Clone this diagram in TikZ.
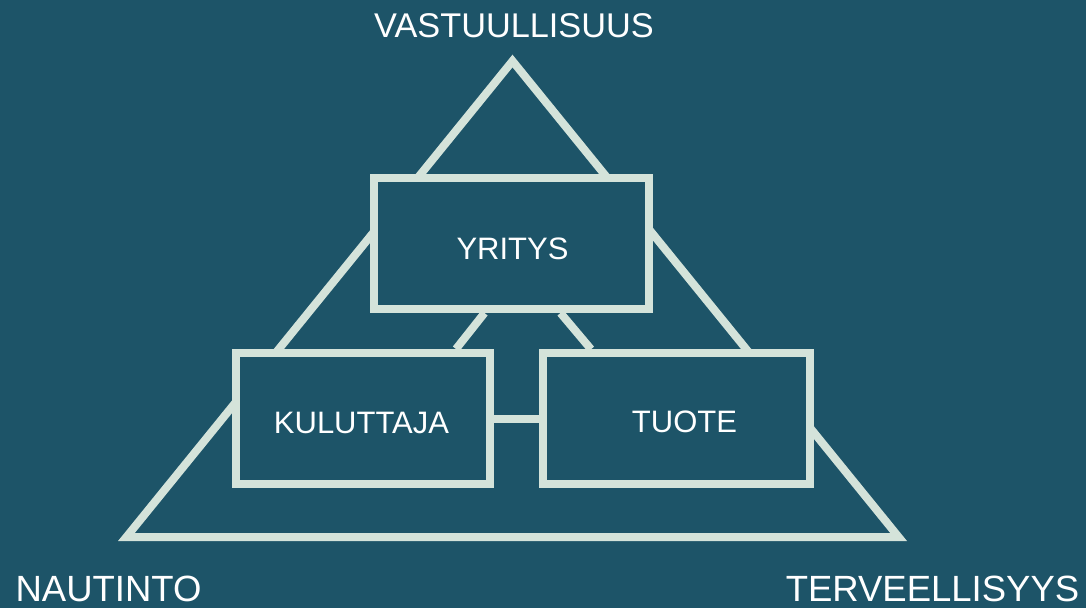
\documentclass[tikz,border=0pt]{standalone}
\usepackage{fontspec}
\setmainfont{Liberation Sans}
\definecolor{bgteal}{RGB}{29,84,104}
\definecolor{mint}{RGB}{212,227,218}

\begin{document}
\begin{tikzpicture}[x=1pt,y=-1pt,
  box/.style={draw=mint,line width=8pt,fill=bgteal,inner sep=0pt,rectangle},
  link/.style={draw=mint,line width=8pt},
  word/.style={text=white,inner sep=0pt,anchor=base}]
\useasboundingbox (0,0) rectangle (1086,608);
\fill[bgteal] (0,0) rectangle (1086,608);
% outer triangle
\coordinate (apex) at (512.5,61);
\coordinate (bl) at (126.4,537);
\coordinate (br) at (898.6,537);
\draw[link,line join=miter] (apex) -- (bl) -- (br) -- cycle;
% boxes
\node[box,minimum width=275pt,minimum height=131pt](yritys) at (511.5,243.5){};
\node[box,minimum width=254pt,minimum height=131pt](kuluttaja) at (362.5,418.5){};
\node[box,minimum width=267pt,minimum height=130.5pt](tuote) at (676.5,418.5){};
\draw[link] ([xshift=-27pt]yritys.south) -- ([xshift=93.5pt]kuluttaja.north);
\draw[link] ([xshift=49pt]yritys.south) -- ([xshift=-85.5pt]tuote.north);
\draw[link] (kuluttaja.east) -- (tuote.west);
% texts
\node[word,font=\fontsize{31}{31}\selectfont](yt) at (512.5,259){YRITYS};
\node[word,font=\fontsize{31}{31}\selectfont](kt) at (361.5,433){KULUTTAJA};
\node[word,font=\fontsize{31}{31}\selectfont](tt) at (684.5,432){TUOTE};
\node[word,font=\fontsize{34.3}{34.3}\selectfont](vt) at (514,37){VASTUULLISUUS};
\node[word,font=\fontsize{36.5}{36.5}\selectfont](nt) at (108.5,601){NAUTINTO};
\node[word,font=\fontsize{36.5}{36.5}\selectfont](tv) at (932.5,601){TERVEELLISYYS};
\end{tikzpicture}
\end{document}
